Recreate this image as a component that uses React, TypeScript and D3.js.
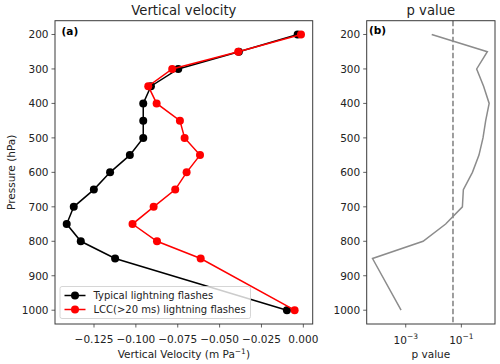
import React from "react";
import * as d3 from "d3";

// pressure levels (hPa)
const levels = [200, 250, 300, 350, 400, 450, 500, 550, 600, 650, 700, 750, 800, 850, 1000];
// vertical velocity (m Pa^-1)
const typicalW = [-0.0034, -0.0385, -0.0747, -0.091, -0.0956, -0.0956, -0.0956, -0.1036, -0.1154, -0.1251, -0.1371, -0.1413, -0.1329, -0.1124, -0.0098];
const lccW = [-0.0014, -0.0389, -0.0783, -0.0926, -0.0876, -0.0737, -0.0709, -0.0617, -0.0697, -0.0765, -0.0894, -0.102, -0.0874, -0.0613, -0.0052];
// p value of the difference
const pValues = [0.0086, 0.86, 0.355, 0.63, 1.0, 0.75, 0.6, 0.43, 0.25, 0.118, 0.109, 0.0273, 0.0042, 0.000064, 0.00068];
const pThreshold = 0.05;

const yTicks = [200, 300, 400, 500, 600, 700, 800, 900, 1000];
const xTicksA = [-0.125, -0.1, -0.075, -0.05, -0.025, 0];
const xTicksB = [-3, -1];

const FONT = "DejaVu Sans, sans-serif";
const TXT = "#222";
const AX = "#3a3a3a";

export default function App() {
  const top = 20.7, bottom = 324;
  const a = { x0: 55, x1: 312.7 };
  const b = { x0: 366.7, x1: 495 };

  const y = d3.scaleLinear().domain([1040, 160]).range([bottom, top]);

  const allW = [...typicalW, ...lccW];
  const [wMin, wMax] = d3.extent(allW) as [number, number];
  const wPad = (wMax - wMin) * 0.05;
  const xA = d3.scaleLinear().domain([wMin - wPad, wMax + wPad]).range([a.x0, a.x1]);

  const logs = pValues.map((p) => Math.log10(p));
  const [lMin, lMax] = d3.extent(logs) as [number, number];
  const lPad = (lMax - lMin) * 0.05;
  const xB = d3.scaleLog().domain([10 ** (lMin - lPad), 10 ** (lMax + lPad)]).range([b.x0, b.x1]);

  const lineA = d3.line<number>().x((d) => xA(d)).y((_, i) => y(levels[i]));
  const lineB = d3.line<number>().x((d) => xB(d)).y((_, i) => y(levels[i]));

  const fmt = (v: number) => {
    const s = Math.abs(v).toFixed(3);
    return v < -1e-9 ? "\u2212" + s : s;
  };

  const series = [
    { vals: typicalW, color: "black", label: "Typical lightning flashes" },
    { vals: lccW, color: "red", label: "LCC(>20 ms) lightning flashes" },
  ];

  const yAxis = (x0: number) => (
    <g>
      {yTicks.map((t) => (
        <g key={t}>
          <line x1={x0 - 3.5} x2={x0} y1={y(t)} y2={y(t)} stroke={AX} strokeWidth={0.8} />
          <text x={x0 - 6.5} y={y(t) + 3.8} textAnchor="end" fontSize={10.5} fill={TXT}>
            {t}
          </text>
        </g>
      ))}
    </g>
  );

  return (
    <svg width={500} height={364} style={{ position: "absolute", left: 0, top: 0, fontFamily: FONT }}>
      <rect width={500} height={364} fill="white" />

      {/* panel (a) */}
      <text x={(a.x0 + a.x1) / 2} y={14.5} textAnchor="middle" fontSize={13.2} fill={TXT}>
        Vertical velocity
      </text>
      {series.map((s) => (
        <g key={s.label}>
          <path d={lineA(s.vals) ?? ""} fill="none" stroke={s.color} strokeWidth={1.5} />
          {s.vals.map((v, i) => (
            <circle key={i} cx={xA(v)} cy={y(levels[i])} r={4} fill={s.color} />
          ))}
        </g>
      ))}
      <text x={61.5} y={35} fontSize={10.5} fontWeight="bold" fill="black">
        (a)
      </text>

      {/* legend */}
      <g>
        <rect x={60} y={286.5} width={190.5} height={32} rx={2} fill="white" fillOpacity={0.8} stroke="#cccccc" strokeWidth={0.8} />
        {series.map((s, i) => {
          const ly = 295.5 + i * 14;
          return (
            <g key={s.label}>
              <line x1={64.5} x2={85.5} y1={ly} y2={ly} stroke={s.color} strokeWidth={1.5} />
              <circle cx={75} cy={ly} r={4} fill={s.color} />
              <text x={93.5} y={ly + 3.6} fontSize={10} fill={TXT}>
                {s.label}
              </text>
            </g>
          );
        })}
      </g>

      <rect x={a.x0} y={top} width={a.x1 - a.x0} height={bottom - top} fill="none" stroke={AX} strokeWidth={1} />
      {yAxis(a.x0)}
      {xTicksA.map((t) => (
        <g key={t}>
          <line x1={xA(t)} x2={xA(t)} y1={bottom} y2={bottom + 3.5} stroke={AX} strokeWidth={0.8} />
          <text x={xA(t)} y={343} textAnchor="middle" fontSize={10.5} fill={TXT}>
            {fmt(t)}
          </text>
        </g>
      ))}
      <text x={(a.x0 + a.x1) / 2} y={358} textAnchor="middle" fontSize={10.5} fill={TXT}>
        Vertical Velocity (m Pa
        <tspan dy={-4} fontSize={7.5}>
          {"\u22121"}
        </tspan>
        <tspan dy={4}>)</tspan>
      </text>
      <text transform={`translate(15,${(top + bottom) / 2}) rotate(-90)`} textAnchor="middle" fontSize={10.5} fill={TXT}>
        Pressure (hPa)
      </text>

      {/* panel (b) */}
      <text x={(b.x0 + b.x1) / 2} y={14.5} textAnchor="middle" fontSize={13.2} fill={TXT}>
        p value
      </text>
      <line x1={xB(pThreshold)} x2={xB(pThreshold)} y1={top} y2={bottom} stroke="#7f7f7f" strokeWidth={1.5} strokeDasharray="5.5,2.5" />
      <path d={lineB(pValues) ?? ""} fill="none" stroke="#8c8c8c" strokeWidth={1.5} />
      <text x={369} y={34} fontSize={10.5} fontWeight="bold" fill="black">
        (b)
      </text>
      <rect x={b.x0} y={top} width={b.x1 - b.x0} height={bottom - top} fill="none" stroke={AX} strokeWidth={1} />
      {yAxis(b.x0)}
      {xTicksB.map((e) => (
        <g key={e}>
          <line x1={xB(10 ** e)} x2={xB(10 ** e)} y1={bottom} y2={bottom + 3.5} stroke={AX} strokeWidth={0.8} />
          <text x={xB(10 ** e)} y={344} textAnchor="middle" fontSize={10.5} fill={TXT}>
            10
            <tspan dy={-5} fontSize={7.5}>
              {"\u2212" + Math.abs(e)}
            </tspan>
          </text>
        </g>
      ))}
      <text x={(b.x0 + b.x1) / 2} y={358} textAnchor="middle" fontSize={10.5} fill={TXT}>
        p value
      </text>
    </svg>
  );
}
